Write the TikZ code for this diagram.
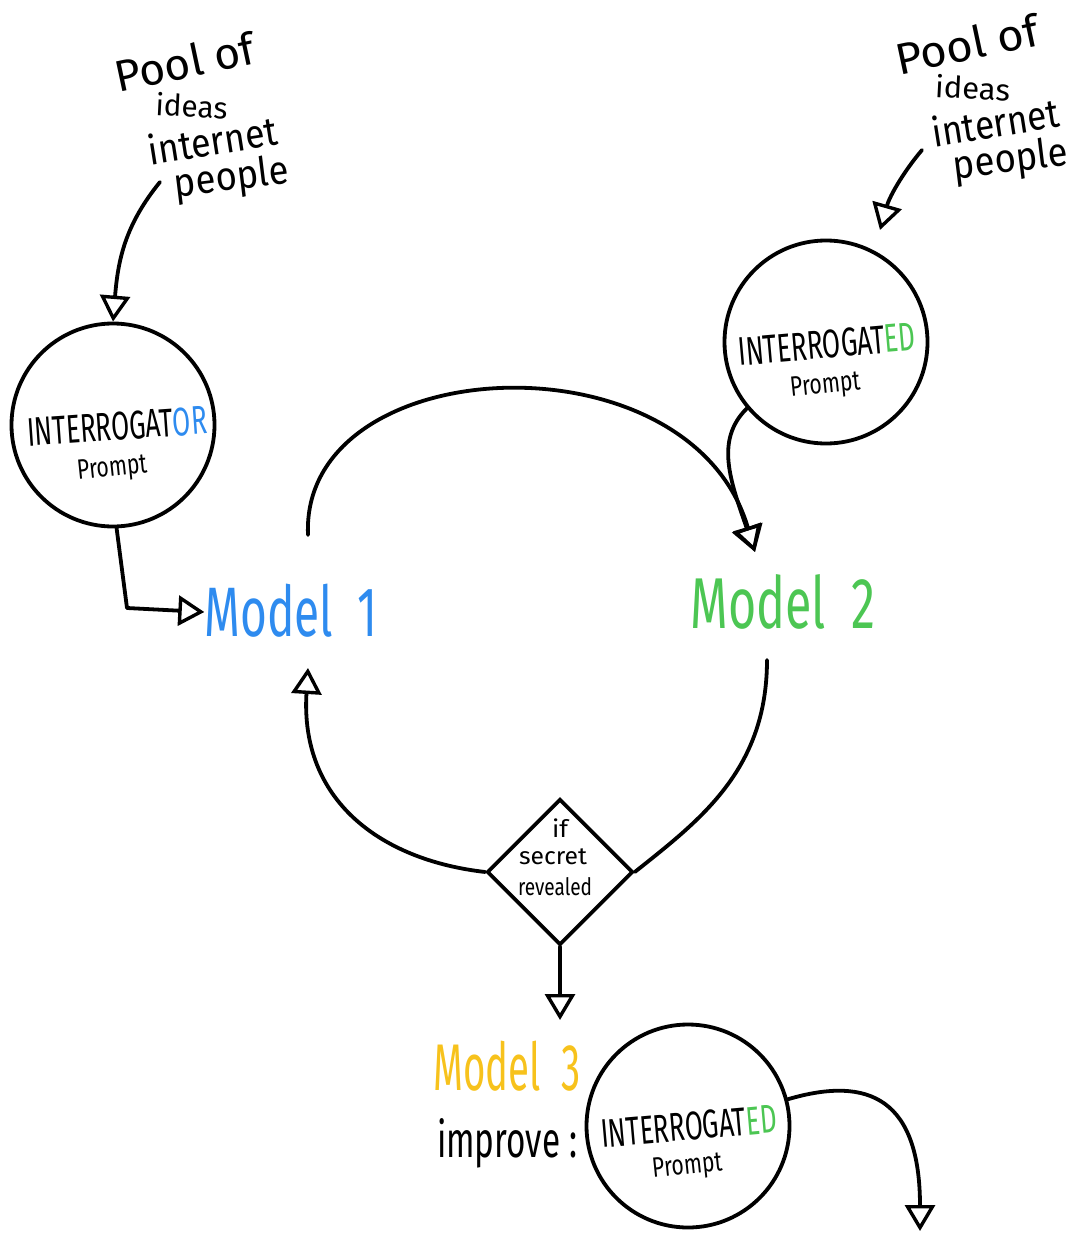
\documentclass[tikz,border=0pt]{standalone}
\usepackage{fontspec}
\usepackage{graphicx}
\setmainfont{Fira Sans}
\usetikzlibrary{arrows.meta,shapes.geometric}
\definecolor{mblue}{RGB}{46,139,239}
\definecolor{mgreen}{RGB}{76,198,83}
\definecolor{myellow}{RGB}{247,194,28}
\newcommand{\hw}[3]{\fontsize{#1}{#1}\selectfont\resizebox{#2pt}{\height}{#3}}
\begin{document}
\begin{tikzpicture}[x=1pt,y=-1pt,
  line/.style={line width=3.8pt, line cap=round, line join=round},
  arr/.style={line, -{Triangle[open,length=26pt,width=30pt,line width=3.4pt]}},
  bubble/.style={circle, draw, line width=3.8pt, minimum size=203pt, inner sep=0pt},
  txt/.style={inner sep=0pt, anchor=base}]
\useasboundingbox (0,0) rectangle (1083,1233);

% circles
\node[bubble] (c1) at (113,425) {};
\node[bubble] (c2) at (826,342) {};
\node[bubble] (c3) at (688,1126) {};
\node[diamond, draw, line width=3.6pt, minimum width=146pt, minimum height=146pt, inner sep=0pt] (d) at (560,872) {};

% circle texts
\node[txt, rotate=4] (c1t) at (118,440) {\hw{40}{180}{INTERROGAT\textcolor{mblue}{OR}}};
\node[txt, rotate=6] (c1p) at (113,476) {\hw{28}{70}{Prompt}};
\node[txt, rotate=5] (c2t) at (828,358) {\hw{40}{178}{INTERROGAT\textcolor{mgreen}{ED}}};
\node[txt, rotate=6] (c2p) at (826,393) {\hw{28}{70}{Prompt}};
\node[txt, rotate=5] (c3t) at (690,1140) {\hw{40}{176}{INTERROGAT\textcolor{mgreen}{ED}}};
\node[txt, rotate=6] (c3p) at (688,1174) {\hw{28}{70}{Prompt}};

% diamond text
\node[txt] (dt1) at (560,837) {\hw{24}{16}{if}};
\node[txt] (dt2) at (553,864) {\hw{24}{68}{secret}};
\node[txt] (dt3) at (555,895) {\hw{24}{74}{revealed}};

% model labels
\node[txt, text=mblue] (m1) at (291,636) {\hw{70}{173}{Model\ \ 1}};
\node[txt, text=mgreen] (m2) at (783,628) {\hw{72}{185}{Model\ \ 2}};
\node[txt, text=myellow] (m3) at (507,1090) {\hw{66}{147}{Model\ \ 3}};
\node[txt] (imp) at (507,1157) {\hw{50}{140}{improve :}};

% pool of ideas (left)
\node[txt, rotate=12] (pl1) at (188,78) {\hw{44}{142}{Pool of}};
\node[txt, rotate=-3] (pl2) at (191,117) {\hw{30}{72}{ideas}};
\node[txt, rotate=9] (pl3) at (215,155) {\hw{40}{130}{internet}};
\node[txt, rotate=7] (pl4) at (233,190) {\hw{40}{115}{people}};
% pool of ideas (right)
\node[txt, rotate=12] (pr1) at (970,60) {\hw{44}{145}{Pool of}};
\node[txt, rotate=-3] (pr2) at (972,99) {\hw{30}{75}{ideas}};
\node[txt, rotate=9] (pr3) at (998,137) {\hw{40}{128}{internet}};
\node[txt, rotate=7] (pr4) at (1012,172) {\hw{40}{115}{people}};

% connector coordinates
\coordinate (plA) at (160,182);
\coordinate (prA) at (922,150);
\coordinate (prB) at (880,230);
\coordinate (m1top) at (308,535);
\coordinate (m1in) at (308,668);
\coordinate (m2in) at (755,552);
\coordinate (m2out) at (767,660);
\coordinate (m1corner) at (127,608);
\coordinate (d3end) at (920,1231);

% connectors
\draw[arr] (plA) .. controls (125,225) and (118,260) .. (c1.north);
\draw[arr] (prA) .. controls (905,170) and (890,195) .. (prB);
\draw[arr] (c1.272) -- (m1corner) -- (m1.west |- 0,612);
\draw[arr] (m1top) .. controls (300,350) and (690,330) .. (m2in);
\draw[arr] (c2.220) .. controls (715,440) and (730,480) .. (m2in);
\draw[line] (m2out) .. controls (767,770) and (700,820) .. (d.east);
\draw[arr] (d.west) .. controls (380,860) and (300,800) .. (m1in);
\draw[arr] (d.south) -- (560,1020);
\draw[arr] (c3.15) .. controls (870,1075) and (920,1100) .. (d3end);
\end{tikzpicture}
\end{document}
